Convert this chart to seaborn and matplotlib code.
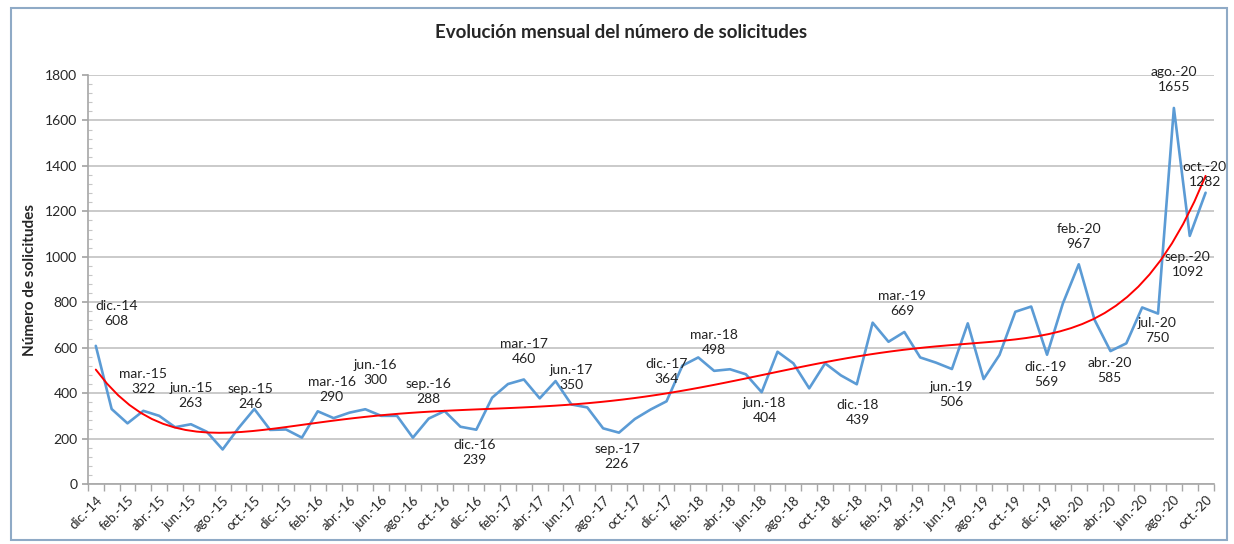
import numpy as np
import pandas as pd
import seaborn as sns
import matplotlib.pyplot as plt
from matplotlib.patches import Rectangle

# monthly data dic.-14 .. oct.-20
meses = ['dic.', 'ene.', 'feb.', 'mar.', 'abr.', 'may.', 'jun.',
         'jul.', 'ago.', 'sep.', 'oct.', 'nov.']
etiquetas = []
for k in range(71):
    m = meses[k % 12]
    anio = 14 + (k + 11) // 12
    etiquetas.append(f'{m}-{anio}')

solicitudes = [608, 330, 267, 322, 300, 250, 263, 230, 152, 246, 330, 238,
               240, 204, 320, 290, 314, 329, 300, 300, 204, 288, 321, 252,
               239, 380, 440, 460, 377, 453, 350, 337, 245, 226, 286, 328,
               364, 521, 557, 498, 505, 483, 404, 582, 531, 421, 531, 478,
               439, 710, 626, 669, 557, 534, 506, 707, 462, 568, 758, 781,
               569, 795, 967, 722, 585, 619, 777, 750, 1655, 1092, 1282]

# labelled points (index) and text offsets in pixels (dx, dy; +dy = down)
idx_etiq = [0, 3, 6, 9, 15, 18, 21, 24, 27, 30, 33, 36, 39, 42, 48, 51,
            54, 60, 62, 64, 67, 68, 69, 70]
desp = [(21, -32), (0, -29), (0, -29), (12, -32), (-2, -29), (-6, -43),
        (0, -27), (-2, 23), (0, -28), (0, -27), (-2, 24), (0, -30),
        (0, -28), (3, 18), (1, 28), (-2, -28), (-1, 25), (-1, 20),
        (0, -28), (-1, 19), (-1, 17), (0, -28), (-2, 29), (-1, -18)]

df = pd.DataFrame({'i': np.arange(len(solicitudes)), 'n': solicitudes})

sns.set_theme(style='white')
plt.rcParams['font.family'] = ['Lato', 'DejaVu Sans']

fig = plt.figure(figsize=(12.34, 5.44), dpi=100)
ax = fig.add_axes([0.0712, 0.1103, 0.9122, 0.7518])

ax.set_axisbelow(True)
ax.yaxis.grid(True, color='#c6c6c6', linewidth=1.3)

sns.lineplot(data=df, x='i', y='n', ax=ax, color='#5b9bd5', linewidth=1.9)
sns.regplot(data=df, x='i', y='n', ax=ax, order=6, scatter=False, ci=None,
            truncate=True, line_kws=dict(color='#ff0000', linewidth=1.4))

for j, (dx, dy) in zip(idx_etiq, desp):
    ax.annotate(f'{etiquetas[j]}\n{solicitudes[j]}', xy=(j, solicitudes[j]),
                xytext=(dx * 0.72, -dy * 0.72), textcoords='offset points',
                ha='center', va='center', fontsize=10, linespacing=1.3,
                color='#222222')

ax.set_xlim(-0.5, 70.5)
ax.set_ylim(0, 1800)
ax.set_yticks(range(0, 1801, 200))
ax.set_yticks(range(0, 1801, 40), minor=True)
ax.set_xticks(range(0, 71, 2))
ax.set_xticklabels(etiquetas[::2], rotation=45, ha='right',
                   rotation_mode='anchor', fontsize=9.5)
ax.set_xticks(np.arange(-0.5, 71, 1), minor=True)
ax.tick_params(axis='x', which='major', length=0, pad=7)
ax.tick_params(axis='x', which='minor', length=5, color='#a6a6a6',
               direction='out', width=1, bottom=True)
ax.tick_params(axis='y', which='major', length=4, color='#a6a6a6',
               direction='out', labelsize=10, left=True)
ax.tick_params(axis='y', which='minor', length=3, color='#c6c6c6',
               direction='in', width=0.8, left=True)

for s in ['top', 'right']:
    ax.spines[s].set_visible(False)
for s in ['left', 'bottom']:
    ax.spines[s].set_color('#a6a6a6')
    ax.spines[s].set_linewidth(1.2)

ax.set_xlabel('')
ax.set_ylabel('Número de solicitudes', fontsize=11, fontweight='bold',
              labelpad=6)

fig.text(0.503, 0.94, 'Evolución mensual del número de solicitudes',
         ha='center', va='center', fontsize=13.5, fontweight='bold')

fig.patches.append(Rectangle((0.009, 0.008), 0.985, 0.978,
                             transform=fig.transFigure, fill=False,
                             edgecolor='#8faac6', linewidth=1.5))

fig.savefig('out.png', dpi=100)
